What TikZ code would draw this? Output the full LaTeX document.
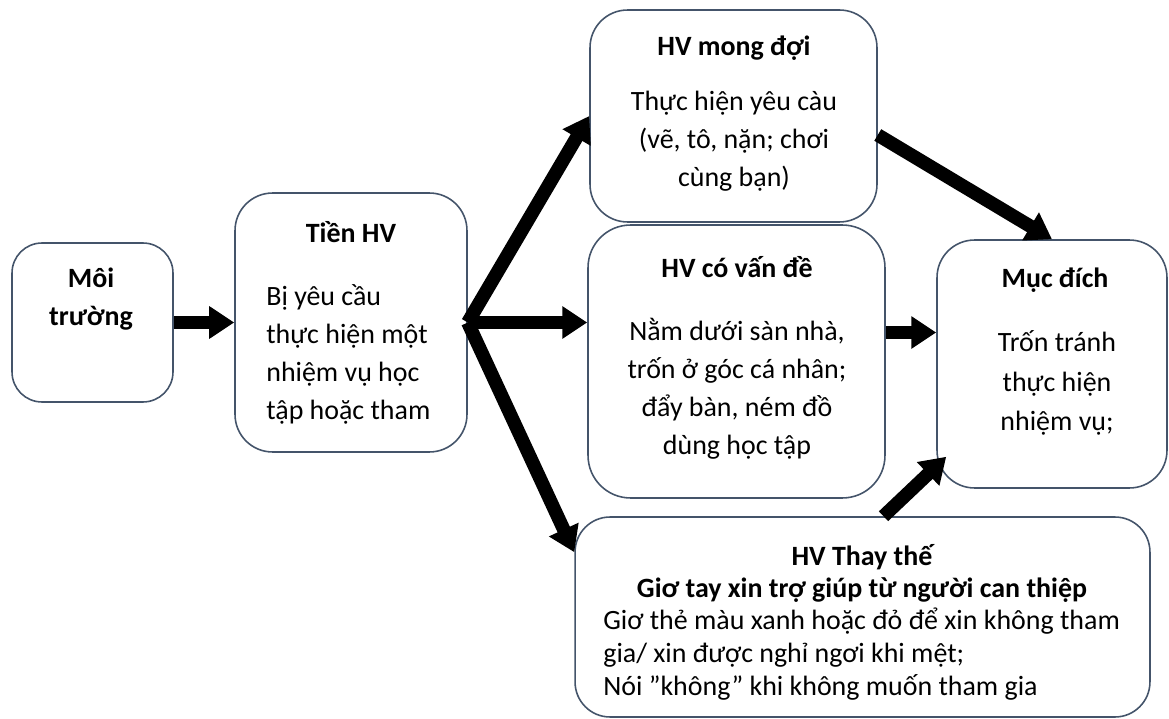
\documentclass[tikz,border=0pt]{standalone}
\usepackage{fontspec}
\setmainfont{Carlito}
\usepackage{tikz}
\usetikzlibrary{arrows.meta,positioning}
\definecolor{boxline}{RGB}{68,84,106}
\tikzset{
  bhv box/.style={
    draw=boxline,
    line width=0.9pt,
    fill=white,
    inner sep=0pt
  },
  bhv title/.style={
    font=\fontsize{15.9pt}{21.8pt}\selectfont\bfseries,
    align=center,
    inner sep=0pt
  },
  bhv text/.style={
    font=\fontsize{15.9pt}{21.6pt}\selectfont,
    align=center,
    inner sep=0pt
  },
  big arrow/.style={
    -{Triangle[length=0.5cm,width=0.62cm]},
    line width=0.27cm,
    black
  }
}

\begin{document}
\begin{tikzpicture}[x=0.02cm, y=-0.02cm]
  \useasboundingbox (0,0) rectangle (1169,719);

  % Boxes
  \node[bhv box, minimum width=3.22cm, minimum height=3.18cm, rounded corners=0.6cm] (moi) at (92.5,322.5) {};
  \node[bhv box, minimum width=4.64cm, minimum height=5.18cm, rounded corners=0.75cm] (tien) at (351,322.5) {};
  \node[bhv box, minimum width=5.74cm, minimum height=4.24cm, rounded corners=0.75cm] (mong) at (733.5,116) {};
  \node[bhv box, minimum width=5.94cm, minimum height=5.46cm, rounded corners=0.85cm] (vande) at (736.5,361.5) {};
  \node[bhv box, minimum width=4.6cm, minimum height=4.96cm, rounded corners=0.75cm] (muc) at (1052,364) {};
  \node[bhv box, minimum width=11.5cm, minimum height=4.0cm, rounded corners=0.7cm] (thaythe) at (862.5,617) {};

  % Texts
  \node[bhv title] (moi-t) at (91,299) {Môi\\trường};
  \node[bhv title] (tien-t) at (351,232) {Tiền HV};
  \node[bhv text, align=left, anchor=west] (tien-b) at (266,354) {Bị yêu cầu\\thực hiện một\\nhiệm vụ học\\tập hoặc tham};
  \node[bhv title] (mong-t) at (734,48) {HV mong đợi};
  \node[bhv text] (mong-b) at (734,141.5) {Thực hiện yêu càu\\(vẽ, tô, nặn; chơi\\cùng bạn)};
  \node[bhv title] (vande-t) at (737,267) {HV có vấn đề};
  \node[bhv text] (vande-b) at (737,388.5) {Nằm dưới sàn nhà,\\trốn ở góc cá nhân;\\đẩy bàn, ném đồ\\dùng học tập};
  \node[bhv title] (muc-t) at (1055,280) {Mục đích};
  \node[bhv text, font=\fontsize{15.9pt}{22.4pt}\selectfont] (muc-b) at (1057,383) {Trốn tránh\\thực hiện\\nhiệm vụ;};
  \node[bhv title, font=\fontsize{15.9pt}{18.7pt}\selectfont\bfseries] (thay-t) at (862,573.5) {HV Thay thế\\Giơ tay xin trợ giúp từ người can thiệp};
  \node[bhv text, font=\fontsize{15.9pt}{18.7pt}\selectfont, align=left, anchor=west] (thay-b) at (603,654) {Giơ thẻ màu xanh hoặc đỏ để xin không tham\\gia/ xin được nghỉ ngơi khi mệt;\\Nói ”không” khi không muốn tham gia};

  % Arrows
  \draw[big arrow] (moi.east) -- (moi.east -| tien.west);
  \draw[big arrow] (tien.east) -- (mong.west);
  \draw[big arrow] (tien.east) -- (tien.east -| vande.west);
  \draw[big arrow] (tien.east) -- ([yshift=-0.72cm]thaythe.north west);
  \draw[big arrow] ([yshift=-0.38cm]mong.east) -- (muc.north);
  \coordinate (vd) at ([yshift=0.58cm]vande.east);
  \draw[big arrow] (vd) -- (vd -| muc.west);
  \draw[big arrow] ([xshift=0.42cm]thaythe.north) -- ([shift={(0.2cm,0.64cm)}]muc.south west);

\end{tikzpicture}
\end{document}
